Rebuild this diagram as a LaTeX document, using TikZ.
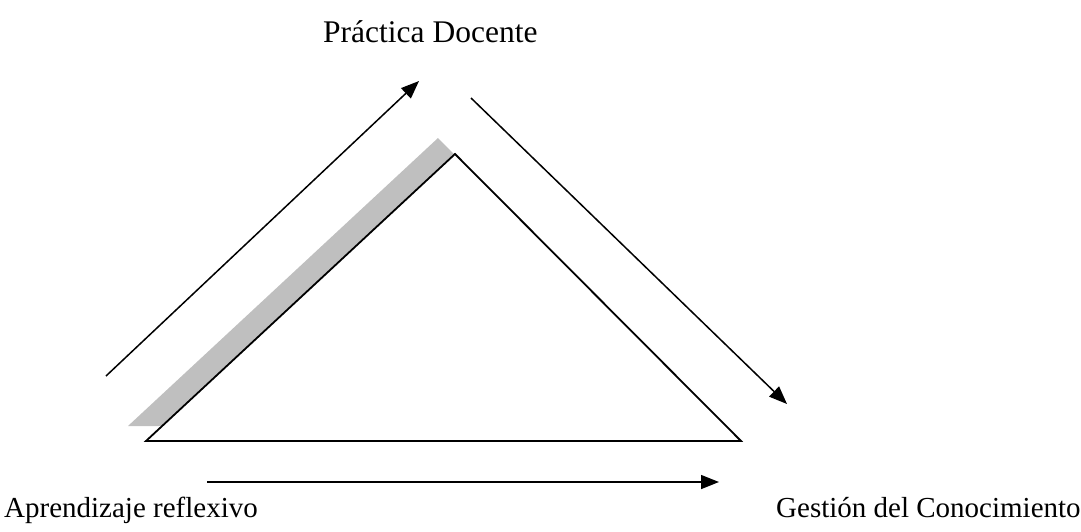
\documentclass[tikz,border=0pt]{standalone}
\usepackage{fontspec}
\setmainfont{Liberation Serif}
\usetikzlibrary{arrows.meta}
\begin{document}
\begin{tikzpicture}[x=1pt,y=-1pt,
  lbl/.style={anchor=base west,inner sep=0pt,font=\fontsize{29}{34}\selectfont},
  toplbl/.style={lbl,font=\fontsize{31.5}{36}\selectfont},
  tri/.style={draw=black,line width=1.8pt,fill=white,line join=miter},
  shadowtri/.style={fill=black!25,draw=none},
  arr/.style={line width=1.5pt,-{Triangle[length=18pt,width=14pt]}}]
\useasboundingbox (0,0) rectangle (1081,531);
% shadow
\fill[shadowtri] (438,138) -- (128,426) -- (724,426) -- cycle;
% triangle
\coordinate (A) at (455,154);
\coordinate (B) at (146,441);
\coordinate (C) at (741,441);
\draw[tri] (A) -- (B) -- (C) -- cycle;
% arrows
\coordinate (u1) at (106,376);
\coordinate (u2) at (419,81);
\coordinate (d1) at (471,98);
\coordinate (d2) at (787,404);
\coordinate (h1) at (207,482);
\coordinate (h2) at (719,482);
\draw[arr] (u1) -- (u2);
\draw[arr] (d1) -- (d2);
\draw[arr] (h1) -- (h2);
% labels
\node[toplbl] (pd) at (323,42) {Práctica Docente};
\node[lbl] (ar) at (4,517) {Aprendizaje reflexivo};
\node[lbl] (gc) at (776,517) {Gestión del Conocimiento};
\end{tikzpicture}
\end{document}
